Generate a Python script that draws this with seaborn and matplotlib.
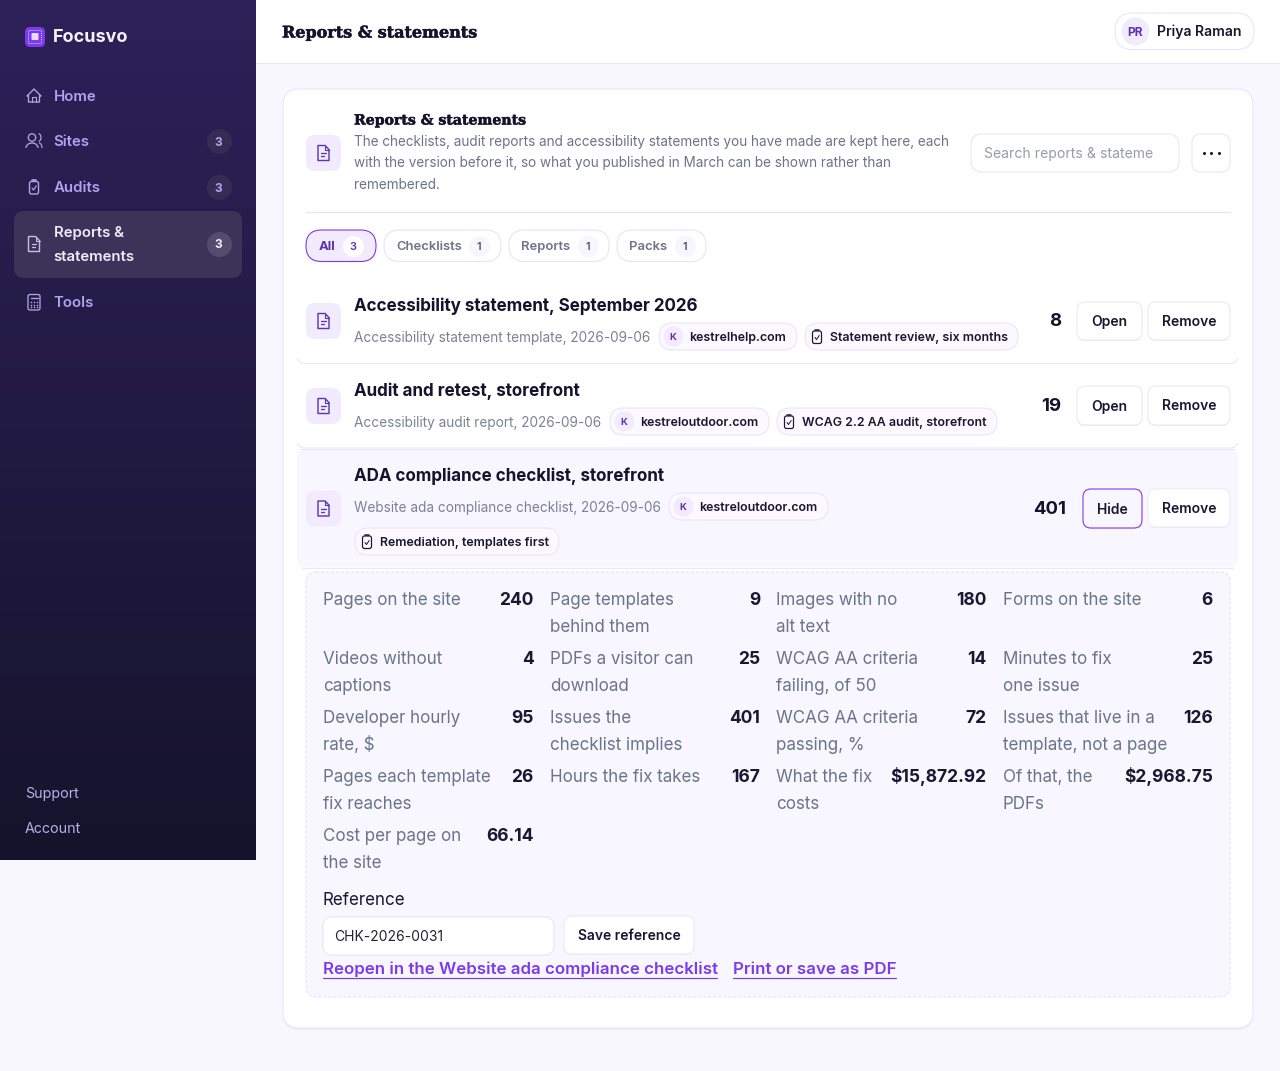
"""Focusvo reports screen redrawn on one full-figure pixel axes."""
import numpy as np
import matplotlib
matplotlib.use("Agg")
import matplotlib.pyplot as plt
import matplotlib.patheffects as pe
import seaborn as sns
from matplotlib.patches import FancyBboxPatch, Polygon, Circle, Arc

sns.set_theme(style="white")
plt.rcParams['font.family'] = ['Inter', 'DejaVu Sans']

# data
nav_items = ["Home", "Sites", "Audits", "Reports &\nstatements", "Tools"]
nav_counts = [None, 3, 3, 3, None]
footer_links = ["Support", "Account"]
tab_names = ["All", "Checklists", "Reports", "Packs"]
tab_counts = [3, 1, 1, 1]
intro_lines = [
    "The checklists, audit reports and accessibility statements you have made are kept here, each",
    "with the version before it, so what you published in March can be shown rather than",
    "remembered.",
]
row_titles = ["Accessibility statement, September 2026", "Audit and retest, storefront",
              "ADA compliance checklist, storefront"]
row_subs = ["Accessibility statement template, 2026-09-06", "Accessibility audit report, 2026-09-06",
            "Website ada compliance checklist, 2026-09-06"]
row_sites = ["kestrelhelp.com", "kestreloutdoor.com", "kestreloutdoor.com"]
row_audits = ["Statement review, six months", "WCAG 2.2 AA audit, storefront", "Remediation, templates first"]
row_issues = [8, 19, 401]
metric_labels = [
    "Pages on the site", "Page templates\nbehind them", "Images with no\nalt text", "Forms on the site",
    "Videos without\ncaptions", "PDFs a visitor can\ndownload", "WCAG AA criteria\nfailing, of 50", "Minutes to fix\none issue",
    "Developer hourly\nrate, $", "Issues the\nchecklist implies", "WCAG AA criteria\npassing, %", "Issues that live in a\ntemplate, not a page",
    "Pages each template\nfix reaches", "Hours the fix takes", "What the fix\ncosts", "Of that, the\nPDFs",
    "Cost per page on\nthe site",
]
metric_values = ["240", "9", "180", "6", "4", "25", "14", "25", "95", "401", "72", "126",
                 "26", "167", "$15,872.92", "$2,968.75", "66.14"]

INK = "#15122b"
MUTED = "#6b7489"
LINE = "#e9e3fb"
VIOLET = "#7c3aed"
DEEP = "#5b34b0"
TINT = "#f1ebfd"
PANEL = "#f8f6fe"

fig = plt.figure(figsize=(12.8, 10.71), dpi=100)
ax = fig.add_axes([0, 0, 1, 1])
ax.set_axis_off()
ax.set_autoscale_on(False)
ax.set_xlim(0, 1280)
ax.set_ylim(1071, 0)
PX = 0.72


def box(x0, y0, x1, y1, r, fc="white", ec="none", lw=1.0, z=2, **kw):
    p = FancyBboxPatch((x0, y0), x1 - x0, y1 - y0, boxstyle=f"round,pad=0,rounding_size={r}",
                       fc=fc, ec=ec, lw=lw * PX, zorder=z, mutation_aspect=1, **kw)
    ax.add_patch(p)
    return p


def txt(x, y, s, size=14.5, color=INK, weight="normal", ha="left", family=None, z=6):
    kw = {"family": family} if family else {}
    return ax.text(x, y, s, fontsize=size * PX, color=color, fontweight=weight, ha=ha, va="baseline", zorder=z, **kw)


def dots(xs, ys, d, color, z=4):
    sns.scatterplot(x=xs, y=ys, s=(d * PX) ** 2, color=color, linewidth=0, legend=False, ax=ax, zorder=z)


def stroke(xs, ys, color, lw=1.4, z=5):
    ax.plot(xs, ys, color=color, lw=lw * PX, zorder=z, solid_capstyle="round", solid_joinstyle="round")


def doc_icon(cx, cy, color, s=1.0):
    w, h = 5.5 * s, 7.5 * s
    pts = [(cx - w, cy - h), (cx + w * 0.3, cy - h), (cx + w, cy - h * 0.45), (cx + w, cy + h), (cx - w, cy + h)]
    ax.add_patch(Polygon(pts, closed=True, fc="none", ec=color, lw=1.4 * PX, zorder=5, joinstyle="round"))
    stroke([cx + w * 0.3, cx + w * 0.3, cx + w], [cy - h, cy - h * 0.45, cy - h * 0.45], color, 1.1)
    stroke([cx - w * 0.45, cx + w * 0.45], [cy + h * 0.05, cy + h * 0.05], color, 1.3)
    stroke([cx - w * 0.45, cx + w * 0.15], [cy + h * 0.45, cy + h * 0.45], color, 1.3)


def clip_icon(cx, cy, color, lw=1.4):
    box(cx - 4.5, cy - 5.5, cx + 4.5, cy + 7, 2, fc="none", ec=color, lw=lw, z=5)
    stroke([cx - 2.2, cx + 2.2], [cy - 7, cy - 7], color, lw + 0.3)
    stroke([cx - 2, cx - 0.5, cx + 2.2], [cy + 1, cy + 3, cy - 1], color, lw - 0.2)


def tile(cx, cy, w=35, h=36):
    box(cx - w / 2, cy - h / 2, cx + w / 2, cy + h / 2, 9, fc=TINT, z=3)
    doc_icon(cx, cy, DEEP)


def button(x0, y0, x1, y1, label, ec="#ebe7f6", fc="white", lw=1.0):
    box(x0, y0 + 1, x1, y1 + 1, 8, fc="#efeaf9", z=2)
    box(x0, y0, x1, y1, 8, fc=fc, ec=ec, lw=lw, z=3)
    txt((x0 + x1) / 2, (y0 + y1) / 2 + 5, label, size=13.9, weight="semibold", ha="center", color="#191630")


def site_chip(x0, x1, y0, label):
    box(x0, y0, x1, y0 + 27, 13.5, fc="#fbf9ff", ec=LINE, z=3)
    dots([x0 + 14], [y0 + 13], 20, TINT)
    txt(x0 + 14, y0 + 17, "K", size=9.5, weight="bold", color=DEEP, ha="center")
    txt(x0 + 30.5, y0 + 18, label, size=12.4, weight="semibold", color="#191630")


def audit_chip(x0, x1, y0, label):
    box(x0, y0, x1, y0 + 27, 13.5, fc="#fbf9ff", ec=LINE, z=3)
    clip_icon(x0 + 12, y0 + 13.5, "#191630", 1.2)
    txt(x0 + 25.5, y0 + 18, label, size=12.4, weight="semibold", color="#191630")


def serif(x, y, s, size):
    t = txt(x, y, s, size=size, weight="bold", family="DejaVu Serif", color=INK)
    t.set_path_effects([pe.withStroke(linewidth=0.35, foreground=INK)])


# page and sidebar
ax.add_patch(plt.Rectangle((0, 0), 1280, 1071, fc="#f9f7fe", ec="none", zorder=0))
ax.add_patch(plt.Rectangle((256, 0), 1024, 63.5, fc="white", ec="none", zorder=1))
stroke([256, 1280], [63.3, 63.3], LINE, 1.0, z=1)
top_rgb = np.array([45, 33, 89])
bottom_rgb = np.array([21, 19, 43])
grad = np.linspace(0, 1, 256)[:, None, None] * (bottom_rgb - top_rgb) + top_rgb
ax.imshow(grad / 255, extent=(0, 256, 860, 0), aspect="auto", zorder=1, interpolation="bilinear")
ax.set_xlim(0, 1280)
ax.set_ylim(1071, 0)

box(25, 27, 45, 47, 5, fc=VIOLET, z=3)
box(28.5, 30.5, 41.5, 43.5, 1, fc="none", ec="#d9c8fb", lw=1.0, z=4, linestyle=(0, (1, 1)))
box(31.5, 33, 38.5, 40, 1, fc="#e9ddff", z=5)
txt(53, 42, "Focusvo", size=18, weight="bold", color="#f6f3ff")

nav_ys = [95.5, 141, 187, 244, 301.5]
nav_color = "#b0a2ee"
for i, (name, count) in enumerate(zip(nav_items, nav_counts)):
    cy = nav_ys[i]
    active = count is not None and "\n" in name
    if active:
        box(14, 211, 242, 278, 10, fc="#3d3358", z=2)
        txt(53.5, 237, "Reports &", size=15, weight="semibold", color="#efeaff")
        txt(53.5, 261, "statements", size=15, weight="semibold", color="#efeaff")
    else:
        txt(53.5, cy + 5.5, name, size=15, weight="semibold", color=nav_color)
    if count is not None:
        dots([218.5], [cy], 25, "#544b6e" if active else "#352c54")
        txt(218.5, cy + 4.5, str(count), size=12, weight="bold", color="#efeaff" if active else nav_color, ha="center")

ic = "#b3a5e0"
# home
ax.add_patch(Polygon([(27, 96), (34, 89), (41, 96), (39.5, 96), (39.5, 102), (28.5, 102), (28.5, 96)], closed=True, fc="none", ec=ic, lw=1.3 * PX, zorder=5, joinstyle="round"))
stroke([32, 32, 36, 36], [102, 97, 97, 102], ic, 1.1)
# people
ax.add_patch(Circle((32, 137.5), 3.7, fc="none", ec=ic, lw=1.3 * PX, zorder=5))
ax.add_patch(Arc((32, 148), 12, 10, theta1=180, theta2=360, ec=ic, lw=1.3 * PX, zorder=5))
ax.add_patch(Arc((38, 137.5), 6, 8, theta1=-80, theta2=80, ec=ic, lw=1.2 * PX, zorder=5))
ax.add_patch(Arc((39, 148), 6, 10, theta1=270, theta2=360, ec=ic, lw=1.2 * PX, zorder=5))
clip_icon(34, 187, ic)
doc_icon(34, 244, "#c9bce8", 1.0)
# calculator
box(28, 294.5, 40, 310, 2, fc="none", ec=ic, lw=1.3, z=5)
stroke([30.5, 37.5], [298, 298], ic, 1.3)
dots([31, 34, 37] * 3, [302] * 3 + [304.5] * 3 + [307] * 3, 1.6, ic, z=5)

txt(25, 798, footer_links[0], size=14.2, color="#b9aee8")
txt(25, 833, footer_links[1], size=14.2, color="#b9aee8")

# top bar
serif(282, 37.5, "Reports & statements", 16)
box(1115, 13, 1254, 49.5, 18, fc="white", ec=LINE)
dots([1135], [31], 28, TINT)
txt(1135, 36, "PR", size=12, weight="bold", color=DEEP, ha="center")
txt(1157, 36, "Priya Raman", size=14, weight="semibold", color="#191630")

# main card
box(283, 90, 1253, 1030, 16, fc="#efeafa", z=1)
box(283, 89, 1253, 1028, 16, fc="white", ec=LINE, z=2)

tile(323.5, 153)
serif(354, 124.5, "Reports & statements", 14.1)
for line, base in zip(intro_lines, [146, 167, 189]):
    txt(354, base, line, size=13.55, color=MUTED)
box(971, 134, 1179, 172, 11, fc="white", ec="#e6e4f2")
txt(984, 158, "Search reports & stateme", size=14, color="#969cac")
box(1192, 134, 1230, 172, 9, fc="white", ec=LINE)
dots([1203.5, 1211, 1218.5], [153, 153, 153], 3, INK)
stroke([306, 1230], [212.2, 212.2], LINE, 1.2, z=3)

# filter tabs
tab_x0 = [306, 384, 509, 617]
tab_x1 = [376, 501, 609, 706]
tab_badge = [352.5, 479, 588, 685]
for i, (name, count) in enumerate(zip(tab_names, tab_counts)):
    on = i == 0
    box(tab_x0[i], 230, tab_x1[i], 261.5, 15.5, fc=TINT if on else "white", ec=VIOLET if on else LINE, lw=1.1)
    txt(tab_x0[i] + 12.5, 250, name, size=13, weight="bold" if on else "semibold", color=DEEP if on else MUTED)
    dots([tab_badge[i]], [246], 21, "white" if on else "#f7f5fd")
    txt(tab_badge[i], 250, str(count), size=11, weight="semibold", color=DEEP if on else "#4f5568", ha="center")

# rows
box(297, 330, 1238, 363.5, 8, fc="white", ec=LINE, z=2)
ax.add_patch(plt.Rectangle((296, 285), 943, 73, fc="white", ec="none", zorder=2))
box(297, 415, 1238, 448, 8, fc="white", ec=LINE, z=2)
ax.add_patch(plt.Rectangle((296, 370), 943, 73, fc="white", ec="none", zorder=2))
box(297, 449, 1238, 567.5, 10, fc=PANEL, z=2)
stroke([300, 1235], [449, 449], LINE, 1.0, z=3)
stroke([302, 1233], [567.5, 567.5], "#ece7fa", 1.0, z=3)

tile(323.5, 321)
tile(323.5, 406)
tile(323.5, 508.5)
title_base = [311, 396, 481]
sub_base = [342, 427, 512]
site_x = [(659, 797), (610, 769), (669, 828)]
site_y = [323, 408, 493]
audit_x = [(805, 1018), (777, 997), (355, 559)]
audit_y = [323, 408, 528]
num_right = [1061, 1061, 1066]
num_base = [326, 411, 514]
for i in range(3):
    txt(354.5, title_base[i], row_titles[i], size=17, weight="bold", color=INK)
    txt(354.5, sub_base[i], row_subs[i], size=13.6, color="#7b8294")
    site_chip(site_x[i][0], site_x[i][1], site_y[i], row_sites[i])
    audit_chip(audit_x[i][0], audit_x[i][1], audit_y[i], row_audits[i])
    txt(num_right[i], num_base[i], str(row_issues[i]), size=18.5, weight="bold", ha="right", color=INK)

button(1077, 302, 1142, 340, "Open")
button(1148, 302, 1230, 340, "Remove")
button(1077, 386, 1142, 425, "Open")
button(1148, 386, 1230, 425, "Remove")
button(1083, 489, 1142, 528, "Hide", ec=VIOLET, fc=PANEL, lw=1.1)
button(1148, 489, 1230, 527, "Remove")

# expanded detail
box(306, 572, 1230, 997, 10, fc=PANEL, ec="#e6dffc", lw=1.0, linestyle=(0, (3, 2)))
col_left = [323, 550, 776.5, 1003]
col_right = [533.5, 760, 986.5, 1213]
row_first = [605, 664, 723, 782, 841]
for i, (label, value) in enumerate(zip(metric_labels, metric_values)):
    r, c = divmod(i, 4)
    for j, part in enumerate(label.split("\n")):
        txt(col_left[c], row_first[r] + 27 * j, part, size=17, color=MUTED)
    txt(col_right[c], row_first[r], value, size=17.4, weight="bold", ha="right", color="#1a1730")

txt(323, 905, "Reference", size=17, color="#1a1730")
box(323, 917, 554, 955, 9, fc="white", ec="#e6e4f2")
txt(334, 941, "CHK-2026-0031", size=13.9, color="#25222f")
button(564, 916, 694, 954, "Save reference")
txt(323, 974, "Reopen in the Website ada compliance checklist", size=16.9, weight="semibold", color=VIOLET)
txt(733, 974, "Print or save as PDF", size=16.9, weight="semibold", color=VIOLET)
stroke([323, 717], [977.5, 977.5], VIOLET, 1.2)
stroke([733, 896], [977.5, 977.5], VIOLET, 1.2)

ax.set_xlim(0, 1280)
ax.set_ylim(1071, 0)
fig.savefig("out.png", dpi=100)
